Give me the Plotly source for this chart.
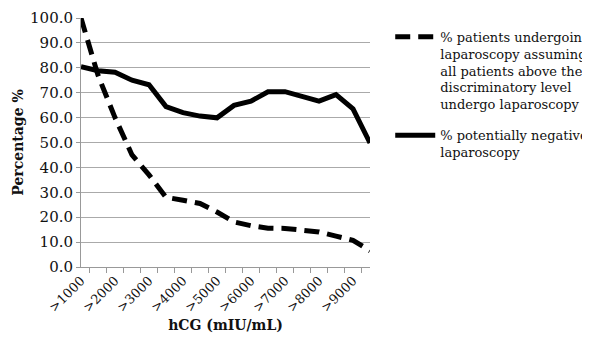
import plotly.graph_objects as go

categories = [">1000", ">1500", ">2000", ">2500", ">3000", ">3500", ">4000", ">4500", ">5000",
              ">5500", ">6000", ">6500", ">7000", ">7500", ">8000", ">8500", ">9000", ">9500"]
tick_text = [">1000", "", ">2000", "", ">3000", "", ">4000", "", ">5000",
             "", ">6000", "", ">7000", "", ">8000", "", ">9000", ""]
pct_undergoing = [100.0, 77.0, 60.0, 45.0, 37.0, 28.0, 26.8, 25.5, 22.1,
                  18.1, 16.6, 15.6, 15.5, 15.0, 14.1, 12.4, 10.7, 6.5]
pct_negative = [80.4, 78.8, 78.2, 75.0, 73.2, 64.4, 62.0, 60.6, 59.9,
                64.9, 66.6, 70.4, 70.4, 68.5, 66.6, 69.2, 63.5, 49.8]
name_undergoing = "% patients undergoing<br>laparoscopy assuming<br>all patients above the<br>discriminatory level<br>undergo laparoscopy"
name_negative = "% potentially negative<br>laparoscopy"

FONT = "DejaVu Serif"

fig = go.Figure()
fig.add_trace(go.Scatter(x=categories, y=pct_undergoing, mode="lines", name=name_undergoing,
                         legendgroup="a",
                         line=dict(color="black", width=5, dash="15px,8px")))
fig.add_trace(go.Scatter(x=categories, y=pct_negative, mode="lines", name=name_negative,
                         legendgroup="b",
                         line=dict(color="black", width=5)))

fig.update_layout(
    width=582, height=334,
    margin=dict(l=73, r=220, t=10, b=75, autoexpand=False),
    paper_bgcolor="white", plot_bgcolor="white",
    font=dict(family=FONT, size=14, color="#111"),
    showlegend=True,
    legend=dict(x=1.07, y=0.985, xanchor="left", yanchor="top", valign="top",
                font=dict(family=FONT, size=13, color="#111"),
                tracegroupgap=11, itemwidth=40, bgcolor="rgba(0,0,0,0)"),
    xaxis=dict(type="category", tickmode="array", tickvals=categories, ticktext=tick_text,
               tickangle=-45, tickson="boundaries", ticks="outside", ticklen=5,
               tickcolor="#999", showline=True, linecolor="#999", linewidth=1,
               showgrid=False, tickfont=dict(size=13),
               title=dict(text="<b>hCG (mIU/mL)</b>", font=dict(size=14), standoff=6)),
    yaxis=dict(range=[0, 100], dtick=10, tickformat=".1f", showgrid=True, gridcolor="#aaa",
               gridwidth=1, showline=True, linecolor="#999", linewidth=1, ticks="outside",
               ticklen=4, tickcolor="#999", zeroline=False, tickfont=dict(size=15),
               title=dict(text="<b>Percentage %</b>", font=dict(size=14), standoff=3)),
)

fig.write_html("out.html")
